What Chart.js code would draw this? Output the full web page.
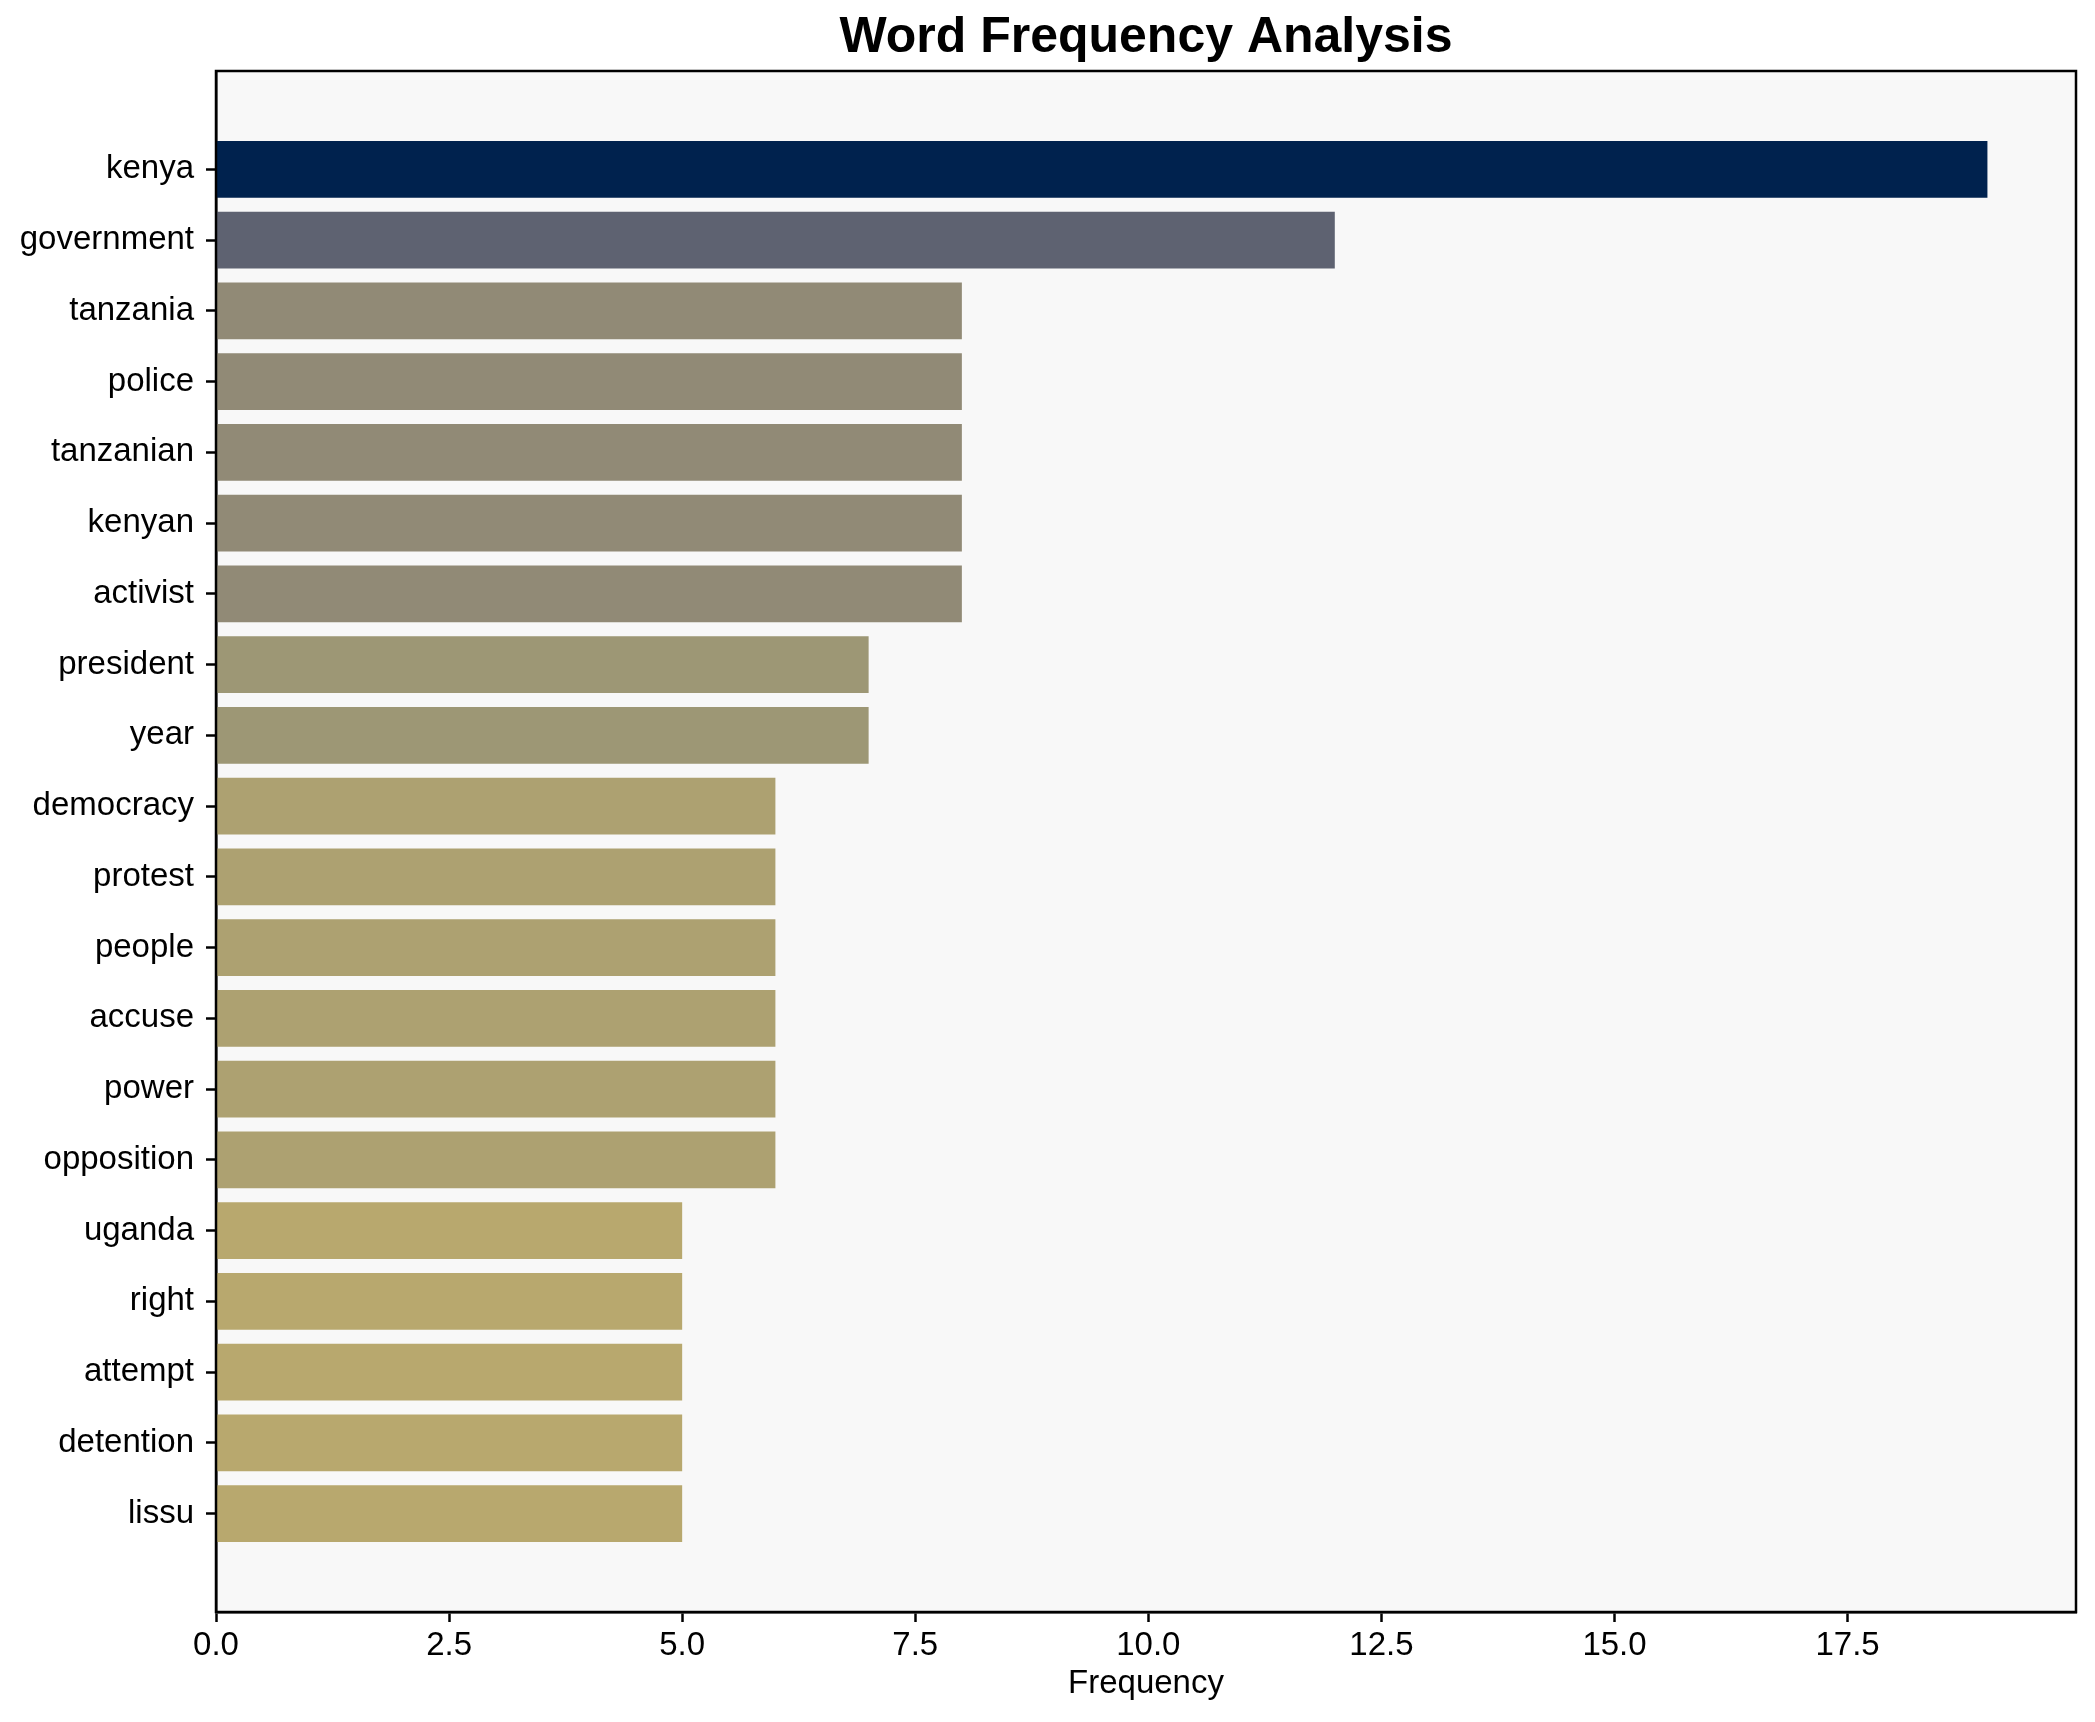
<!DOCTYPE html>
<html>
  <head>
    <meta charset="utf-8">
    <style>
      body { margin: 0; background: #ffffff; }
    </style>
  </head>
  <body>
    <canvas id="chart-area" width="2095" height="1722"></canvas>

    <script src="https://cdn.jsdelivr.net/npm/chart.js@4/dist/chart.umd.min.js"></script>
    <script>
      // data
      var words = ["kenya", "government", "tanzania", "police", "tanzanian", "kenyan", "activist",
                   "president", "year", "democracy", "protest", "people", "accuse", "power",
                   "opposition", "uganda", "right", "attempt", "detention", "lissu"];
      var counts = [19, 12, 8, 8, 8, 8, 8, 7, 7, 6, 6, 6, 6, 6, 6, 5, 5, 5, 5, 5];
      var xTicks = [0, 2.5, 5, 7.5, 10, 12.5, 15, 17.5];

      // cividis-like shade per frequency
      var shade = { 19: "#00224e", 12: "#5e6271", 8: "#918a76", 7: "#9d9775", 6: "#ada171", 5: "#b8a86e" };

      var points = [];
      var colors = [];
      for (var i = 0; i < words.length; i++) {
        points.push({ x: counts[i], y: i });
        colors.push(shade[counts[i]]);
      }

      var font = "'Liberation Sans', Arial, sans-serif";

      // plot background and frame, like matplotlib axes
      var framePlugin = {
        id: "frame",
        beforeDraw: function(chart) {
          var a = chart.chartArea, ctx = chart.ctx;
          ctx.save();
          ctx.fillStyle = "#f8f8f8";
          ctx.fillRect(a.left, a.top, a.right - a.left, a.bottom - a.top);
          ctx.restore();
        },
        afterDraw: function(chart) {
          var a = chart.chartArea, ctx = chart.ctx;
          ctx.save();
          ctx.strokeStyle = "#000";
          ctx.lineWidth = 2.5;
          ctx.strokeRect(a.left, a.top, a.right - a.left, a.bottom - a.top);
          ctx.restore();
        }
      };

      var ctx = document.getElementById("chart-area").getContext("2d");
      var chart = new Chart(ctx, {
        type: "bar",
        data: {
          datasets: [{
            label: "Frequency",
            data: points,
            backgroundColor: colors,
            borderWidth: 0,
            categoryPercentage: 1.0,
            barPercentage: 0.8
          }]
        },
        options: {
          indexAxis: "y",
          responsive: false,
          animation: false,
          devicePixelRatio: 1,
          layout: { padding: { left: 0, right: 19, top: 0, bottom: 0 } },
          plugins: {
            legend: { display: false },
            tooltip: { enabled: false },
            title: {
              display: true,
              fullSize: false,
              text: "Word Frequency Analysis",
              color: "#000",
              font: { family: font, size: 50, weight: "bold" },
              padding: { top: 8, bottom: 3 }
            }
          },
          scales: {
            x: {
              type: "linear",
              min: 0,
              max: 19.95,
              afterBuildTicks: function(scale) {
                scale.ticks = xTicks.map(function(v) { return { value: v }; });
              },
              afterFit: function(scale) { scale.height = 110; },
              ticks: {
                color: "#000",
                font: { family: font, size: 33 },
                padding: 4,
                callback: function(v) { return Number(v).toFixed(1); }
              },
              grid: { display: true, drawOnChartArea: false, drawTicks: true, tickLength: 10, tickColor: "#000", tickWidth: 2.5 },
              border: { display: true, color: "#000", width: 2.5 },
              title: {
                display: true,
                text: "Frequency",
                color: "#000",
                font: { family: font, size: 33 },
                padding: { top: 0, bottom: 18 }
              }
            },
            y: {
              type: "linear",
              reverse: true,
              offset: false,
              min: -1.39,
              max: 20.39,
              afterBuildTicks: function(scale) {
                scale.ticks = words.map(function(w, k) { return { value: k }; });
              },
              afterFit: function(scale) { scale.width = 216; },
              ticks: {
                color: "#000",
                autoSkip: false,
                font: { family: font, size: 33 },
                padding: 12,
                callback: function(v) { return words[v]; }
              },
              grid: { display: true, offset: false, drawOnChartArea: false, drawTicks: true, tickLength: 10, tickColor: "#000", tickWidth: 2.5 },
              border: { display: true, color: "#000", width: 2.5 }
            }
          }
        },
        plugins: [framePlugin]
      });
    </script>
  </body>
</html>
